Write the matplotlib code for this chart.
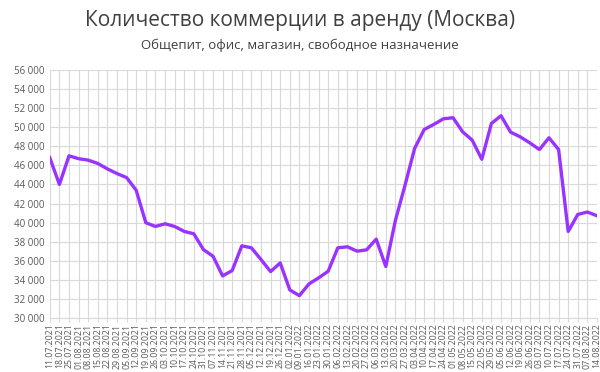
import matplotlib.pyplot as plt
import pandas as pd

plt.rcParams['font.family'] = ['Open Sans', 'DejaVu Sans']

# Даты (еженедельно)
DATES = pd.date_range('2021-07-11', '2022-08-14', freq='7D')
LABELS = [d.strftime('%d.%m.%Y') for d in DATES]

# Количество объявлений
VALUES = [
    46800, 44000, 47000, 46700, 46550, 46200, 45630, 45140, 44720, 43390,
    39990, 39600, 39880, 39600, 39080, 38830, 37180, 36480, 34420, 34980,
    37570, 37360, 36130, 34870, 35780, 32950, 32350, 33580, 34210, 34910,
    37360, 37470, 37010, 37150, 38270, 35400, 40230, 43910, 47770, 49760,
    50290, 50880, 50990, 49520, 48640, 46640, 50390, 51200, 49480, 48990,
    48360, 47660, 48890, 47660, 39080, 40860, 41110, 40720,
]

Y_TICKS = list(range(30000, 56001, 2000))

fig = plt.figure(figsize=(6, 3.72), dpi=100)
ax = fig.add_axes([0.083, 0.145, 0.912, 0.667])

x = list(range(len(VALUES)))
ax.plot(x, VALUES, color='#9933ff', linewidth=2.4, solid_joinstyle='round')

ax.set_xlim(0, len(VALUES) - 1)
ax.set_ylim(30000, 56000)
ax.set_yticks(Y_TICKS)
ax.set_yticklabels([f'{v:,}'.replace(',', ' ') for v in Y_TICKS])
ax.set_xticks(x)
ax.set_xticklabels(LABELS, rotation=90)

ax.grid(True, color='#d9d9d9', linewidth=0.8)
ax.set_axisbelow(True)
for s in ['top', 'right', 'left']:
    ax.spines[s].set_visible(False)
ax.spines['bottom'].set_color('#d9d9d9')
ax.tick_params(axis='x', labelsize=6.3, colors='#595959', length=3, color='#d9d9d9', pad=1)
ax.tick_params(axis='y', labelsize=7, colors='#595959', length=0, pad=4)

fig.text(0.5, 0.945, 'Количество коммерции в аренду (Москва)', ha='center', va='center',
         fontsize=15, color='#404040')
fig.text(0.5, 0.877, 'Общепит, офис, магазин, свободное назначение', ha='center', va='center',
         fontsize=9.5, color='#404040')

fig.savefig('out.png', dpi=100)
